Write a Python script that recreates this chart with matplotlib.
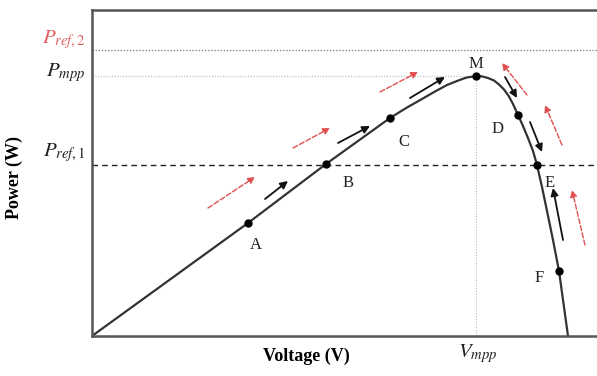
import matplotlib.pyplot as plt

plt.rcParams['mathtext.fontset'] = 'stix'
plt.rcParams['font.family'] = 'Liberation Serif'

# P-V curve, digitised (arbitrary units)
curve_v = [0, 156, 234, 298, 315, 330, 343, 355, 365, 374, 384, 390, 396, 402,
           407, 412, 417, 421, 426, 431, 436, 441, 445, 450, 455, 461, 467, 476]
curve_p = [0, 113, 172, 218, 228.5, 237, 244.5, 251, 255, 258.3, 260, 259.6, 258, 255.5,
           251.5, 246.5, 239.5, 232, 221, 210, 198, 185, 171, 149, 125, 96, 65, 0]

# operating points
pt_names = ['A', 'B', 'C', 'M', 'D', 'E', 'F']
pt_v = [156, 234, 298, 384, 426, 445, 467]
pt_p = [113, 172, 218, 260, 221, 171, 65]

p_ref2 = 286
p_mpp = 260
p_ref1 = 171
v_mpp = 384

# black (solid) and red (dashed) tracking arrows: (tail_v, tail_p, head_v, head_p)
black_arrows = [(173, 137, 196, 155), (246, 193, 278, 210), (318, 238, 353, 259),
                (413, 259, 425, 238), (438, 214, 450, 184), (471, 96, 461, 148)]
red_arrows = [(116, 128, 163, 159), (201, 188, 238, 208), (288, 244, 326, 264),
              (435, 241, 410, 273), (470, 191, 453, 231), (493, 91, 480, 146)]

fig = plt.figure(figsize=(5.97, 3.76), dpi=100)
ax = fig.add_axes([92 / 597, 40 / 376, 505 / 597, 326 / 376])
ax.set_xlim(0, 505)
ax.set_ylim(0, 326)

# reference lines
ax.axhline(p_ref2, color='#777777', lw=0.9, ls=(0, (1, 1.5)))
ax.plot([0, v_mpp], [p_mpp, p_mpp], color='#bbbbbb', lw=0.8, ls=(0, (1, 1.5)))
ax.axhline(p_ref1, color='#222222', lw=1.0, ls=(0, (4, 3)))
ax.plot([v_mpp, v_mpp], [0, p_mpp], color='#bbbbbb', lw=0.8, ls=(0, (1, 1.5)))

ax.plot(curve_v, curve_p, color='#333333', lw=1.6)
ax.plot(pt_v, pt_p, 'o', color='black', ms=5)

offsets = {'A': (6, -16), 'B': (16, -14), 'C': (10, -17), 'M': (0, 9),
           'D': (-15, -10), 'E': (9, -13), 'F': (-14, -5)}
for name, v, p in zip(pt_names, pt_v, pt_p):
    dx, dy = offsets[name]
    ax.annotate(name, (v, p), xytext=(dx, dy), textcoords='offset points',
                ha='center', va='center', fontsize=12, color='#222222')

for tv, tp, hv, hp in black_arrows:
    ax.annotate('', xy=(hv, hp), xytext=(tv, tp),
                arrowprops=dict(arrowstyle='-|>', color='#111111', lw=1.3,
                                mutation_scale=11, shrinkA=0, shrinkB=0))
for tv, tp, hv, hp in red_arrows:
    ax.annotate('', xy=(hv, hp), xytext=(tv, tp),
                arrowprops=dict(arrowstyle='-|>', color='#e05050', lw=1.0, ls='--',
                                mutation_scale=10, shrinkA=0, shrinkB=0))

for s in ['left', 'bottom', 'top']:
    ax.spines[s].set_color('#555555')
    ax.spines[s].set_linewidth(1.8)
ax.spines['right'].set_visible(False)
ax.set_xticks([])
ax.set_yticks([])

ax.text(-6, p_ref2 + 10, r'$P_{ref,2}$', color='#e06060', fontsize=15, ha='right', va='center')
ax.text(-6, p_mpp + 3, r'$P_{mpp}$', color='#222222', fontsize=15, ha='right', va='center')
ax.text(-6, p_ref1 + 12, r'$P_{ref,1}$', color='#222222', fontsize=15, ha='right', va='center')
ax.text(v_mpp + 2, -18, r'$V_{mpp}$', color='#222222', fontsize=15, ha='center', va='center')

ax.text(214, -20, 'Voltage (V)', fontsize=13, fontweight='bold', ha='center', va='center')
fig.text(14 / 597, 1 - 178 / 376, 'Power (W)', fontsize=13, fontweight='bold',
         rotation=90, ha='center', va='center')

fig.savefig('out.png', dpi=100)
